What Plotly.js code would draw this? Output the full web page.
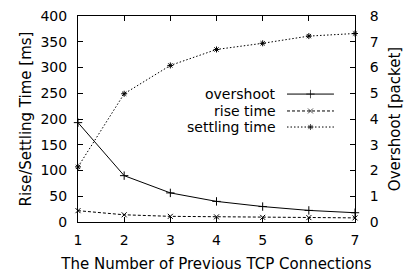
<!DOCTYPE html>
<html>
<head>
<meta charset="utf-8">
<script src="https://cdn.plot.ly/plotly-3.0.1.min.js"></script>
<style>html,body{margin:0;padding:0;background:#fff;}#chart{width:404px;height:273px;}</style>
</head>
<body>
<div id="chart"></div>
<script>
// Data
var connections = [1, 2, 3, 4, 5, 6, 7];
var overshoot = [3.86, 1.8, 1.13, 0.8, 0.6, 0.45, 0.36];      // packets (right axis)
var riseTime = [22, 14, 11, 10, 9, 8.5, 8];                     // ms (left axis)
var settlingTime = [107, 249, 304, 335, 347, 361, 366];         // ms (left axis)
var seriesNames = ['overshoot', 'rise time', 'settling time'];
var leftTicks = [0, 50, 100, 150, 200, 250, 300, 350, 400];
var rightTicks = [0, 1, 2, 3, 4, 5, 6, 7, 8];

var FONT = 'DejaVu Sans, sans-serif';
var styles = [
  {dash: 'solid', symbol: 'cross-thin-open', size: 6},
  {dash: '3px,2px', symbol: 'x-thin-open', size: 5},
  {dash: '1.5px,2px', symbol: 'asterisk-open', size: 5}
];

function series(x, y, i, yaxis) {
  return {
    x: x, y: y, type: 'scatter', mode: 'lines+markers', yaxis: yaxis,
    name: seriesNames[i], showlegend: false, cliponaxis: false,
    line: {color: '#000', width: 1, dash: styles[i].dash},
    marker: {symbol: styles[i].symbol, size: styles[i].size, color: '#000', line: {color: '#000', width: 1}}
  };
}

var traces = [
  series(connections, overshoot, 0, 'y2'),
  series(connections, riseTime, 1, 'y'),
  series(connections, settlingTime, 2, 'y')
];

// Manual legend (text left, sample right), in an overlay unit axis
var legX0 = 0.7545, legX1 = 0.924, legTextX = 0.718;
var legRows = [0.621, 0.539, 0.461];
var annotations = [];
for (var i = 0; i < seriesNames.length; i++) {
  var lm = (legX0 + legX1) / 2;
  traces.push({
    x: [legX0, lm, legX1], y: [legRows[i], legRows[i], legRows[i]],
    xaxis: 'x3', yaxis: 'y3', type: 'scatter', mode: 'lines+markers', showlegend: false, hoverinfo: 'skip',
    line: {color: '#000', width: 1, dash: styles[i].dash},
    marker: {symbol: styles[i].symbol, size: [0, styles[i].size, 0], color: '#000', line: {color: '#000', width: 1}}
  });
  annotations.push({
    xref: 'paper', yref: 'paper', x: legTextX, y: legRows[i], xanchor: 'right', yanchor: 'middle',
    borderpad: 0, text: seriesNames[i], showarrow: false, font: {family: FONT, size: 14, color: '#000'}
  });
}

var axisCommon = {
  showline: true, linecolor: '#000', linewidth: 1, ticks: 'inside', ticklen: 5, tickcolor: '#000', tickwidth: 1,
  showgrid: false, zeroline: false, tickfont: {family: FONT, size: 14, color: '#000'}
};

var layout = {
  width: 404, height: 273,
  margin: {l: 78, r: 49, t: 16, b: 51},
  paper_bgcolor: '#fff', plot_bgcolor: '#fff',
  showlegend: false,
  xaxis: Object.assign({}, axisCommon, {
    range: [1, 7], tickvals: connections, mirror: 'ticks', ticklabelstandoff: 5,
    title: {text: 'The Number of Previous TCP Connections', font: {family: FONT, size: 15, color: '#000'}, standoff: 15}
  }),
  yaxis: Object.assign({}, axisCommon, {
    range: [0, 400], tickvals: leftTicks, ticklabelstandoff: 7,
    title: {text: 'Rise/Settling Time [ms]', font: {family: FONT, size: 15, color: '#000'}, standoff: 5}
  }),
  yaxis2: Object.assign({}, axisCommon, {
    range: [0, 8], tickvals: rightTicks, overlaying: 'y', side: 'right', ticklabelstandoff: 11,
    title: {text: 'Overshoot [packet]', font: {family: FONT, size: 15, color: '#000'}, standoff: 11}
  }),
  xaxis3: {overlaying: 'x', range: [0, 1], visible: false, fixedrange: true},
  yaxis3: {overlaying: 'y', range: [0, 1], visible: false, fixedrange: true, anchor: 'x3'},
  annotations: annotations
};

Plotly.newPlot('chart', traces, layout, {displayModeBar: false, staticPlot: true});
</script>
</body>
</html>
